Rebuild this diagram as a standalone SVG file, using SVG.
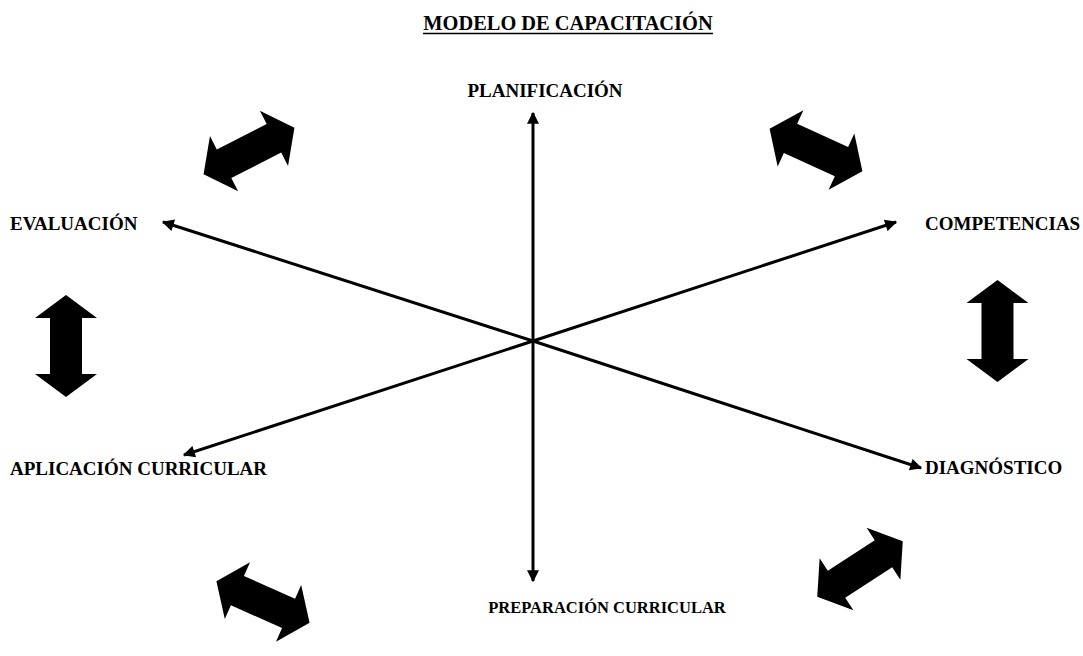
<svg xmlns="http://www.w3.org/2000/svg" width="1083" height="656" viewBox="0 0 1083 656">
  <style>
    .lbl { font-family: "Liberation Serif", "Times New Roman", serif; font-weight: bold; font-size: 19px; fill: #000; }
    .ttl { font-size: 20.4px; }
    .sm { font-size: 16.5px; }
    .ax { stroke: #000; stroke-width: 3; fill: none; }
    .blk { fill: #000; }
  </style>
  <defs>
    <marker id="ah" viewBox="0 0 10 10" refX="9" refY="5" markerWidth="4.5" markerHeight="4" markerUnits="strokeWidth" orient="auto">
      <path d="M0,0 L10,5 L0,10 Z" fill="#000"/>
    </marker>
    <path id="dbl" d="M-51,0 L-28,-31 L-28,-16 L28,-16 L28,-31 L51,0 L28,31 L28,16 L-28,16 L-28,31 Z"/>
  </defs>
  <rect width="1083" height="656" fill="#fff"/>

  <g id="title">
    <text class="lbl ttl" x="568" y="30" text-anchor="middle">MODELO DE CAPACITACIÓN</text>
    <line x1="423" y1="33.5" x2="713" y2="33.5" stroke="#000" stroke-width="1.5"/>
  </g>

  <g id="connectors">
    <line class="ax" x1="533" y1="341" x2="533" y2="113" marker-end="url(#ah)"/>
    <line class="ax" x1="533" y1="341" x2="533" y2="581" marker-end="url(#ah)"/>
    <line class="ax" x1="533" y1="341" x2="163" y2="222" marker-end="url(#ah)"/>
    <line class="ax" x1="533" y1="341" x2="921" y2="468" marker-end="url(#ah)"/>
    <line class="ax" x1="533" y1="341" x2="184" y2="455" marker-end="url(#ah)"/>
    <line class="ax" x1="533" y1="341" x2="896" y2="222" marker-end="url(#ah)"/>
  </g>

  <g id="node-planificacion"><text class="lbl" x="545" y="97" text-anchor="middle">PLANIFICACIÓN</text></g>
  <g id="node-evaluacion"><text class="lbl" x="10" y="230">EVALUACIÓN</text></g>
  <g id="node-competencias"><text class="lbl" x="925" y="230">COMPETENCIAS</text></g>
  <g id="node-aplicacion"><text class="lbl" x="10" y="475">APLICACIÓN CURRICULAR</text></g>
  <g id="node-diagnostico"><text class="lbl" x="925" y="474">DIAGNÓSTICO</text></g>
  <g id="node-preparacion"><text class="lbl sm" x="607" y="613" text-anchor="middle">PREPARACIÓN CURRICULAR</text></g>

  <g id="cycle-arrows" class="blk">
    <use href="#dbl" transform="translate(249,151) rotate(-27)"/>
    <use href="#dbl" transform="translate(816,150) rotate(24.5)"/>
    <use href="#dbl" transform="translate(66,346) rotate(90)"/>
    <use href="#dbl" transform="translate(997.5,331) rotate(90)"/>
    <use href="#dbl" transform="translate(263,602) rotate(24)"/>
    <use href="#dbl" transform="translate(860,569) rotate(-33)"/>
  </g>
</svg>
